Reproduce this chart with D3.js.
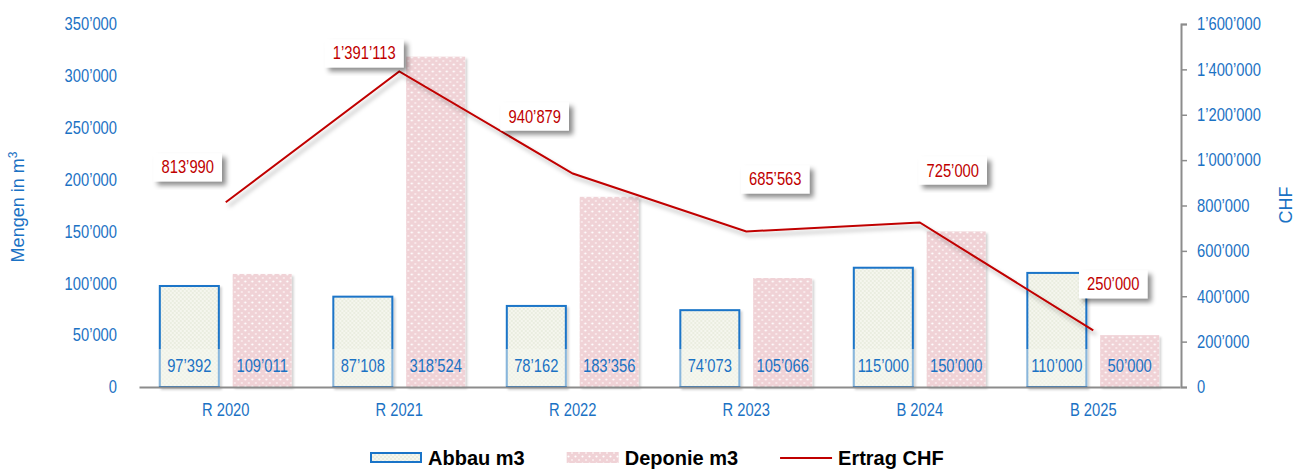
<!DOCTYPE html>
<html>
<head>
<meta charset="utf-8">
<script src="https://cdn.jsdelivr.net/npm/d3@7"></script>
<style>
  body { margin: 0; background: #fff; }
  svg { display: block; }
</style>
</head>
<body>
<svg id="chart" width="1305" height="469"></svg>
<script>
// DATA
var categories = ['R 2020', 'R 2021', 'R 2022', 'R 2023', 'B 2024', 'B 2025'];
var abbau = [97392, 87108, 78162, 74073, 115000, 110000];
var deponie = [109011, 318524, 183356, 105066, 150000, 50000];
var ertrag = [813990, 1391113, 940879, 685563, 725000, 250000];
var leftTicks = [0, 50000, 100000, 150000, 200000, 250000, 300000, 350000];
var rightTicks = [0, 200000, 400000, 600000, 800000, 1000000, 1200000, 1400000, 1600000];
var legendNames = ['Abbau m3', 'Deponie m3', 'Ertrag CHF'];

// label placement of the Ertrag boxes, relative to the point (layout only)
var ertragLabelShift = [[-38, -35], [-35, -18], [-38, -57], [29, -52], [33, -52], [20, -46]];

var BLUE = '#1b72c4';
var RED = '#c00000';
var FONT = "'Liberation Sans', Arial, sans-serif";
var SQUEEZE = 0.82; // Arial Narrow look

var locale = d3.formatLocale({ decimal: '.', thousands: '\u2019', grouping: [3], currency: ['', ''] });
var fmt = locale.format(',d');

// squeeze text horizontally around its anchor x
function narrow(sel) {
    sel.style('font-family', FONT).style('font-size', '18px')
        .attr('transform', function() {
            var x = +(d3.select(this).attr('x') || 0);
            return 'translate(' + x + ',0) scale(' + SQUEEZE + ',1) translate(' + (-x) + ',0)';
        });
}

var svg = d3.select('#chart');
var defs = svg.append('defs');

// patterns
var pA = defs.append('pattern').attr('id', 'pat-abbau')
    .attr('patternUnits', 'userSpaceOnUse').attr('width', 4).attr('height', 4);
pA.append('rect').attr('width', 4).attr('height', 4).attr('fill', '#f5f6ee');
pA.append('rect').attr('width', 2).attr('height', 2).attr('fill', '#eaede0');
pA.append('rect').attr('x', 2).attr('y', 2).attr('width', 2).attr('height', 2).attr('fill', '#eaede0');

var pD = defs.append('pattern').attr('id', 'pat-deponie')
    .attr('patternUnits', 'userSpaceOnUse').attr('width', 7).attr('height', 7);
pD.append('rect').attr('width', 7).attr('height', 7).attr('fill', '#f0d2d6');
pD.append('circle').attr('cx', 1.5).attr('cy', 1.5).attr('r', 1.1).attr('fill', '#fff');
pD.append('circle').attr('cx', 5).attr('cy', 5).attr('r', 1).attr('fill', '#fbeef0');

// shadows
function shadow(id, dx, dy, blur, op) {
    var f = defs.append('filter').attr('id', id)
        .attr('x', '-30%').attr('y', '-30%').attr('width', '160%').attr('height', '160%');
    f.append('feDropShadow').attr('dx', dx).attr('dy', dy)
        .attr('stdDeviation', blur).attr('flood-color', '#000').attr('flood-opacity', op);
}
shadow('sh-box', 4, 4, 2.5, 0.45);
shadow('sh-line', 3, 4, 2, 0.3);
shadow('sh-bar', 2, 2, 1.2, 0.18);

// SCALES
var x0 = d3.scaleBand().domain(categories).range([139, 1180])
    .paddingInner(0.24).paddingOuter(0.12);
var x1 = d3.scaleBand().domain(['abbau', 'deponie'])
    .range([0, x0.bandwidth()]).paddingInner(0.19);
var yL = d3.scaleLinear().domain([0, 350000]).range([387, 24]);
var yR = d3.scaleLinear().domain([0, 1600000]).range([387, 24]);

// LEFT AXIS (labels only)
var gL = svg.append('g').attr('transform', 'translate(139,0)')
    .call(d3.axisLeft(yL).tickValues(leftTicks).tickFormat(fmt).tickSize(0).tickPadding(22));
gL.select('.domain').remove();
gL.selectAll('text').attr('fill', BLUE).call(narrow);

// RIGHT AXIS
var gR = svg.append('g').attr('transform', 'translate(1181,0)')
    .call(d3.axisRight(yR).tickValues(rightTicks).tickFormat(fmt).tickSize(6).tickPadding(10));
gR.select('.domain').attr('stroke', '#8c8c8c').attr('stroke-width', 2);
gR.selectAll('.tick line').attr('stroke', '#8c8c8c').attr('stroke-width', 1.5);
gR.selectAll('text').attr('fill', BLUE).call(narrow);

// BARS
var groups = svg.append('g').selectAll('g').data(categories).enter()
    .append('g')
    .attr('transform', function(d) { return 'translate(' + x0(d) + ',0)'; });

groups.append('rect')
    .attr('x', x1('deponie'))
    .attr('y', function(d, i) { return yL(deponie[i]); })
    .attr('width', x1.bandwidth())
    .attr('height', function(d, i) { return yL(0) - yL(deponie[i]); })
    .attr('fill', 'url(#pat-deponie)')
    .attr('filter', 'url(#sh-bar)');

groups.append('rect')
    .attr('x', x1('abbau'))
    .attr('y', function(d, i) { return yL(abbau[i]); })
    .attr('width', x1.bandwidth())
    .attr('height', function(d, i) { return yL(0) - yL(abbau[i]); })
    .attr('fill', 'url(#pat-abbau)')
    .attr('stroke', '#1a74c8')
    .attr('stroke-width', 2)
    .attr('filter', 'url(#sh-bar)');

// label backdrop over the bottom of the Abbau bars
groups.append('rect')
    .attr('x', x1('abbau') - 1.5)
    .attr('y', yL(0) - 38)
    .attr('width', x1.bandwidth() + 3)
    .attr('height', 37)
    .attr('fill', '#f6f7f0')
    .attr('opacity', 0.5);

// bar value labels
groups.append('text')
    .attr('x', x1('abbau') + x1.bandwidth() / 2)
    .attr('y', 372)
    .attr('text-anchor', 'middle')
    .attr('fill', BLUE)
    .text(function(d, i) { return fmt(abbau[i]); })
    .call(narrow);

groups.append('text')
    .attr('x', x1('deponie') + x1.bandwidth() / 2)
    .attr('y', 372)
    .attr('text-anchor', 'middle')
    .attr('fill', BLUE)
    .text(function(d, i) { return fmt(deponie[i]); })
    .call(narrow);

// BOTTOM AXIS
var gB = svg.append('g').attr('transform', 'translate(0,387)')
    .call(d3.axisBottom(x0).tickSize(0).tickPadding(16).tickSizeOuter(0));
gB.select('.domain').attr('stroke', '#8c8c8c').attr('stroke-width', 2);
gB.selectAll('text').attr('fill', BLUE).call(narrow);

// LINE
var cx = function(i) { return x0(categories[i]) + x0.bandwidth() / 2; };
var line = d3.line()
    .x(function(d, i) { return cx(i); })
    .y(function(d) { return yR(d); });

svg.append('path')
    .datum(ertrag)
    .attr('d', line)
    .attr('fill', 'none')
    .attr('stroke', RED)
    .attr('stroke-width', 2)
    .attr('filter', 'url(#sh-line)');

// line labels
var lbl = svg.append('g').selectAll('g').data(ertrag).enter().append('g')
    .attr('transform', function(d, i) {
        return 'translate(' + (cx(i) + ertragLabelShift[i][0]) + ',' + (yR(d) + ertragLabelShift[i][1]) + ')';
    });
lbl.append('rect').attr('class', 'box');
lbl.append('text')
    .attr('text-anchor', 'middle')
    .attr('y', 6)
    .attr('fill', RED)
    .text(function(d) { return fmt(d); })
    .call(narrow);
lbl.each(function() {
    var g = d3.select(this);
    var w = g.select('text').node().getComputedTextLength() * SQUEEZE + 16;
    g.select('rect')
        .attr('x', -w / 2).attr('y', -14)
        .attr('width', w).attr('height', 28)
        .attr('fill', '#fff')
        .attr('filter', 'url(#sh-box)');
});

// AXIS TITLES
var tL = svg.append('text')
    .attr('transform', 'translate(24,207) rotate(-90)')
    .attr('text-anchor', 'middle')
    .attr('fill', BLUE)
    .style('font-family', FONT).style('font-size', '18px');
tL.append('tspan').text('Mengen in m');
tL.append('tspan').attr('dy', -7).style('font-size', '12px').text('3');

svg.append('text')
    .attr('transform', 'translate(1292,205) rotate(-90)')
    .attr('text-anchor', 'middle')
    .attr('fill', BLUE)
    .style('font-family', FONT).style('font-size', '18px')
    .text('CHF');

// LEGEND
var legend = svg.append('g');
var lx = 370;
legendNames.forEach(function(name, i) {
    if (i === 0) {
        legend.append('rect').attr('x', lx + 1).attr('y', 453).attr('width', 50).attr('height', 9)
            .attr('fill', 'url(#pat-abbau)').attr('stroke', '#1a74c8').attr('stroke-width', 2);
    } else if (i === 1) {
        legend.append('rect').attr('x', lx).attr('y', 452).attr('width', 52).attr('height', 11)
            .attr('fill', 'url(#pat-deponie)');
    } else {
        legend.append('line').attr('x1', lx).attr('x2', lx + 52).attr('y1', 458).attr('y2', 458)
            .attr('stroke', RED).attr('stroke-width', 2);
    }
    var t = legend.append('text')
        .attr('x', lx + 58).attr('y', 465)
        .attr('fill', '#000')
        .style('font-family', FONT).style('font-size', '20px').style('font-weight', 'bold')
        .text(name);
    lx += 58 + t.node().getComputedTextLength() + 42;
});
</script>
</body>
</html>
